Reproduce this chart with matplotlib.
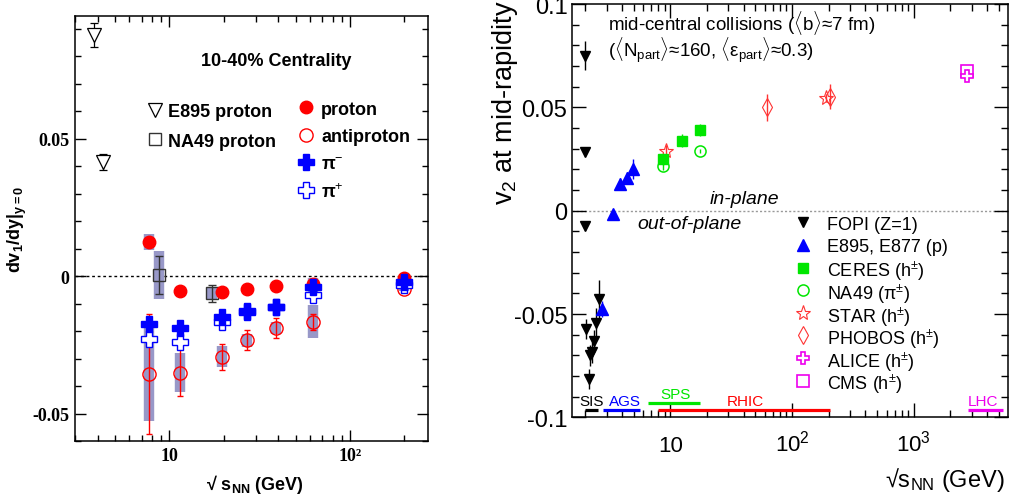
import numpy as np
import matplotlib
matplotlib.use("Agg")
import matplotlib.pyplot as plt
from matplotlib.ticker import FixedLocator, FuncFormatter, LogLocator, MultipleLocator, NullFormatter

plt.rcParams['font.family'] = ['Liberation Sans', 'DejaVu Sans']
plt.rcParams['mathtext.fontset'] = 'custom'
plt.rcParams['mathtext.rm'] = 'Liberation Sans'
plt.rcParams['mathtext.it'] = 'Liberation Sans:italic'
plt.rcParams['mathtext.bf'] = 'Liberation Sans:bold'
plt.rcParams['axes.unicode_minus'] = False

# ---- left panel: dv1/dy slopes, 10-40% centrality ----
bes_energy = [7.7, 11.5, 19.6, 27, 39, 62.4, 200]
p_slope = [0.0125, -0.0053, -0.0059, -0.0048, -0.0035, -0.0027, -0.0006]
p_sys = [0.0028, 0, 0, 0, 0, 0, 0]
pbar_slope = [-0.0356, -0.0351, -0.0293, -0.0233, -0.0188, -0.0166, -0.0048]
pbar_err = [0.022, 0.0085, 0.0047, 0.0036, 0.0036, 0.0029, 0.001]
pbar_sys = [0.017, 0.007, 0.0038, 0.0023, 0.0022, 0.006, 0.0005]
pim_slope = [-0.0175, -0.0187, -0.0150, -0.0127, -0.0111, -0.0041, -0.0021]
pim_sys = [0, 0, 0, 0, 0, 0.0035, 0]
pip_slope = [-0.0229, -0.0239, -0.0168, -0.0130, -0.0113, -0.0067, -0.0033]

e895_energy = [3.8, 4.3]
e895_slope = [0.0878, 0.0416]
e895_err = [0.0045, 0.003]

na49_energy = [8.8, 17.3]
na49_slope = [0.0004, -0.0063]
na49_err = [0.0068, 0.003]
na49_sys = [0.0088, 0.002]

# ---- right panel: v2 excitation function ----
fopi_e = [1.99, 1.99, 1.99, 2.05, 2.14, 2.2, 2.28, 2.35, 2.46, 2.58]
fopi_v2 = [0.075, 0.0285, -0.0075, -0.0572, -0.0814, -0.070, -0.0685, -0.0629, -0.0543, -0.0427]
fopi_err = [0.007, 0.002, 0.002, 0.005, 0.005, 0.005, 0.005, 0.005, 0.007, 0.009]
e895_e = [2.75, 3.4, 3.9, 4.4, 4.95]
e895_v2 = [-0.0475, -0.0016, 0.0129, 0.0158, 0.0202]
e895_v2err = [0.004, 0.001, 0.003, 0.003, 0.005]
ceres_e = [8.8, 12.6, 17.5]
ceres_v2 = [0.025, 0.0339, 0.039]
ceres_err = [0.003, 0.003, 0.003]
na49_e = [8.8, 17.5]
na49_v2 = [0.0218, 0.029]
na49_v2err = [0.002, 0.001]
star_e = [9.3, 190]
star_v2 = [0.029, 0.0544]
star_err = [0.003, 0.002]
phobos_e = [62.4, 205]
phobos_v2 = [0.050, 0.0551]
phobos_err = [0.0067, 0.006]
alice_e = [2760]
alice_v2 = [0.065]
alice_err = [0.002]
cms_e = [2760]
cms_v2 = [0.0674]
cms_err = [0.001]

facility = ['SIS', 'AGS', 'SPS', 'RHIC', 'LHC']
facility_lo = [2.0, 2.8, 6.6, 7.9, 2770]
facility_hi = [2.55, 5.6, 17.6, 204, 5400]
facility_col = ['black', 'blue', '#00e600', 'red', '#ee00ee']

box_col = '#9898c8'
green = '#00e600'
lred = '#ff3333'
magenta = '#ee00ee'

fig = plt.figure(figsize=(10.1, 5.02), dpi=100)
ax1 = fig.add_axes([0.0743, 0.1195, 0.3495, 0.8466])
ax2 = fig.add_axes([0.566, 0.1665, 0.4317, 0.8235])


def sys_boxes(ax, x, y, s):
    x, y, s = np.asarray(x), np.asarray(y), np.asarray(s)
    m = s > 0
    ax.vlines(x[m], y[m] - s[m], y[m] + s[m], lw=7.5, color=box_col, zorder=1)


def legend_rows(ax, xm, xt, y0, dy, entries, **kw):
    for i, (style, label) in enumerate(entries):
        y = y0 - i * dy
        ax.plot([xm], [y], transform=ax.transAxes, clip_on=False, ls='none', **style)
        ax.text(xt, y, label, transform=ax.transAxes, va='center_baseline', ha='left', **kw)


# left panel
ax1.set_xscale('log')
ax1.set_xlim(3, 270)
ax1.set_ylim(-0.06, 0.0947)
ax1.axhline(0, color='black', ls=(0, (2, 2)), lw=1, zorder=0)

sys_boxes(ax1, bes_energy, pbar_slope, pbar_sys)
sys_boxes(ax1, bes_energy, p_slope, p_sys)
sys_boxes(ax1, bes_energy, pim_slope, pim_sys)
sys_boxes(ax1, na49_energy, na49_slope, na49_sys)

ax1.errorbar(e895_energy, e895_slope, yerr=e895_err, fmt='v', ms=10, mfc='white', mec='black',
             mew=0.9, ecolor='black', elinewidth=0.9, capsize=3, zorder=3)
ax1.errorbar(na49_energy, na49_slope, yerr=na49_err, fmt='s', ms=8.5, mfc='none', mec='#333333',
             mew=1, ecolor='#333333', elinewidth=1, capsize=3, zorder=3)
ax1.plot(bes_energy, p_slope, 'o', ms=9, color='red', zorder=4)
ax1.errorbar(bes_energy, pbar_slope, yerr=pbar_err, fmt='o', ms=9.5, mfc='none', mec='red',
             mew=1, ecolor='red', elinewidth=1, capsize=2.5, zorder=4)
ax1.plot(bes_energy, pip_slope, 'P', ms=11.5, mfc='white', mec='blue', mew=1, zorder=5)
ax1.plot(bes_energy, pim_slope, 'P', ms=11.5, color='blue', zorder=6)

ax1.text(0.5714, 0.8948, '10-40% Centrality', transform=ax1.transAxes, ha='center', va='center',
         fontsize=13, fontweight='bold')
legend_rows(ax1, 0.2266, 0.2635, 0.7795, 0.0689,
            [(dict(marker='v', ms=10, mfc='white', mec='black', mew=0.9), 'E895 proton'),
             (dict(marker='s', ms=8.5, mfc='white', mec='#333333', mew=1), 'NA49 proton')],
            fontsize=13, fontweight='bold')
legend_rows(ax1, 0.6544, 0.6969, 0.7852, 0.0649,
            [(dict(marker='o', ms=9, color='red'), 'proton'),
             (dict(marker='o', ms=9.5, mfc='white', mec='red', mew=1), 'antiproton'),
             (dict(marker='P', ms=11.5, color='blue'), 'π$^{-}$'),
             (dict(marker='P', ms=11.5, mfc='white', mec='blue', mew=1), 'π$^{+}$')],
            fontsize=13, fontweight='bold')

ax1.xaxis.set_major_locator(FixedLocator([10, 100]))
ax1.xaxis.set_major_formatter(FuncFormatter(lambda v, p: {10: '10', 100: '10²'}.get(int(round(v)), '')))
ax1.xaxis.set_minor_locator(LogLocator(base=10, subs=np.arange(2, 10)))
ax1.xaxis.set_minor_formatter(NullFormatter())
ax1.yaxis.set_major_locator(FixedLocator([-0.05, 0, 0.05]))
ax1.yaxis.set_major_formatter(FuncFormatter(lambda v, p: '%g' % round(v, 3)))
ax1.yaxis.set_minor_locator(MultipleLocator(0.01))
ax1.tick_params(which='both', direction='in', top=True, right=True, width=1)
ax1.tick_params(which='major', length=8, pad=4)
ax1.tick_params(which='minor', length=4)
for s in ax1.spines.values():
    s.set_linewidth(1.1)
ax1.set_xlabel('√ s$_{\\mathbf{NN}}$ (GeV)', fontsize=13, fontweight='bold')
ax1.xaxis.set_label_coords(0.51, -0.073)
ax1.set_ylabel('dv$_{\\mathbf{1}}$/dy|$_{\\mathbf{y=0}}$', fontsize=13, fontweight='bold')
ax1.yaxis.set_label_coords(-0.13, 0.5)

# right panel
ax2.set_xscale('log')
ax2.set_xlim(1.55, 5900)
ax2.set_ylim(-0.1, 0.1)
ax2.axhline(0, color='#999999', ls=(0, (1.5, 1.5)), lw=1, zorder=0)

for name, lo, hi, col in zip(facility, facility_lo, facility_hi, facility_col):
    yy = -0.093 if name == 'SPS' else -0.0962
    ax2.hlines(yy, lo, hi, color=col, lw=2.3)
ax2.text(2.27, -0.0919, 'SIS', color='black', fontsize=11, ha='center', va='center')
ax2.text(4.27, -0.0919, 'AGS', color='blue', fontsize=11, ha='center', va='center')
ax2.text(11.0, -0.0886, 'SPS', color=green, fontsize=11, ha='center', va='center')
ax2.text(41.3, -0.0919, 'RHIC', color='red', fontsize=11, ha='center', va='center')
ax2.text(3730, -0.0919, 'LHC', color=magenta, fontsize=11, ha='center', va='center')

ekw = dict(elinewidth=1, capsize=0)
ax2.errorbar(fopi_e, fopi_v2, yerr=fopi_err, fmt='v', ms=7.5, color='black', **ekw)
ax2.errorbar(e895_e, e895_v2, yerr=e895_v2err, fmt='^', ms=8, color='blue', **ekw)
ax2.errorbar(star_e, star_v2, yerr=star_err, fmt='*', ms=11, mfc='none', mec=lred, mew=0.8,
             ecolor=lred, **ekw)
ax2.errorbar(na49_e, na49_v2, yerr=na49_v2err, fmt='o', ms=8, mfc='none', mec=green, mew=1.1,
             ecolor=green, **ekw)
ax2.errorbar(ceres_e, ceres_v2, yerr=ceres_err, fmt='s', ms=7, color=green, **ekw)
ax2.errorbar(phobos_e, phobos_v2, yerr=phobos_err, fmt='d', ms=9, mfc='none', mec=lred, mew=0.8,
             ecolor=lred, **ekw)
ax2.errorbar(cms_e, cms_v2, yerr=cms_err, fmt='s', ms=8, mfc='none', mec=magenta, mew=1.2,
             ecolor=magenta, **ekw)
ax2.errorbar(alice_e, alice_v2, yerr=alice_err, fmt='P', ms=8, mfc='white', mec=magenta, mew=1.2,
             ecolor=magenta, **ekw)

ax2.text(0.0833, 0.957, r'mid-central collisions ($\langle$b$\rangle$≈7 fm)',
         transform=ax2.transAxes, fontsize=13.5, va='center')
ax2.text(0.0833, 0.890, r'($\langle$N$_{\rm part}\rangle$≈160, $\langle$ε$_{\rm part}\rangle$≈0.3)',
         transform=ax2.transAxes, fontsize=13.5, va='center')
ax2.text(0.3975, 0.5285, 'in-plane', transform=ax2.transAxes, fontsize=14, style='italic',
         ha='center', va='center')
ax2.text(0.2713, 0.470, 'out-of-plane', transform=ax2.transAxes, fontsize=14, style='italic',
         ha='center', va='center')

legend_rows(ax2, 0.5305, 0.585, 0.472, 0.0547,
            [(dict(marker='v', ms=7.5, color='black'), 'FOPI (Z=1)'),
             (dict(marker='^', ms=8, color='blue'), 'E895, E877 (p)'),
             (dict(marker='s', ms=7, color=green), 'CERES (h$^{\\pm}$)'),
             (dict(marker='o', ms=8, mfc='none', mec=green, mew=1.1), 'NA49 (π$^{\\pm}$)'),
             (dict(marker='*', ms=11, mfc='none', mec=lred, mew=0.8), 'STAR (h$^{\\pm}$)'),
             (dict(marker='d', ms=9, mfc='none', mec=lred, mew=0.8), 'PHOBOS (h$^{\\pm}$)'),
             (dict(marker='P', ms=8, mfc='none', mec=magenta, mew=1.2), 'ALICE (h$^{\\pm}$)'),
             (dict(marker='s', ms=8, mfc='none', mec=magenta, mew=1.2), 'CMS (h$^{\\pm}$)')],
            fontsize=13)

ax2.xaxis.set_major_locator(FixedLocator([10, 100, 1000]))
ax2.xaxis.set_major_formatter(FuncFormatter(
    lambda v, p: {10: '10', 100: r'10$^{2}$', 1000: r'10$^{3}$'}.get(int(round(v)), '')))
ax2.xaxis.set_minor_locator(LogLocator(base=10, subs=np.arange(2, 10)))
ax2.xaxis.set_minor_formatter(NullFormatter())
ax2.yaxis.set_major_locator(FixedLocator([-0.1, -0.05, 0, 0.05, 0.1]))
ax2.yaxis.set_major_formatter(FuncFormatter(lambda v, p: '%g' % round(v, 3)))
ax2.yaxis.set_minor_locator(MultipleLocator(0.01))
ax2.tick_params(which='both', direction='in', top=True, right=True, width=1)
ax2.tick_params(which='major', length=10)
ax2.tick_params(which='minor', length=5)
ax2.tick_params(axis='y', which='major', labelsize=17, pad=3)
ax2.tick_params(axis='x', which='major', labelsize=16, pad=24)
for s in ax2.spines.values():
    s.set_linewidth(1.1)
ax2.set_xlabel('√s$_{\\rm NN}$ (GeV)', fontsize=17, ha='right')
ax2.xaxis.set_label_coords(0.994, -0.115)
fig.text(0.5, 0.592, 'v$_{2}$ at mid-rapidity', rotation=90, fontsize=19.5, ha='center', va='bottom')

# tick label fonts: serif bold on the left, baseline-aligned powers of ten on the right
for t in ax1.xaxis.get_major_ticks() + ax1.yaxis.get_major_ticks():
    t.label1.set_fontfamily('Liberation Serif')
    t.label1.set_fontweight('bold')
    t.label1.set_fontsize(13)
for t in ax2.xaxis.get_major_ticks():
    t.label1.set_va('baseline')

fig.savefig('out.png', dpi=100)
